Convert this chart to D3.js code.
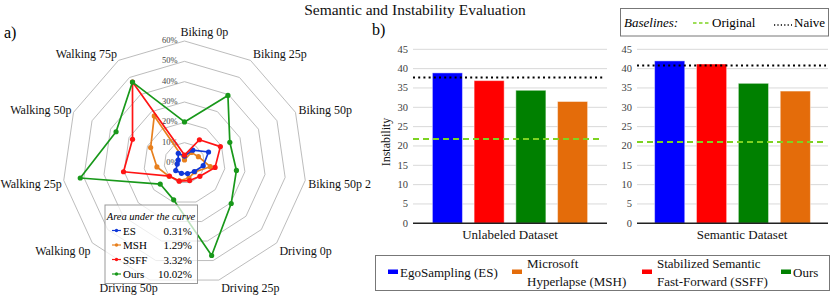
<!DOCTYPE html>
<html>
<head>
<meta charset="utf-8">
<script src="https://cdn.jsdelivr.net/npm/d3@7/dist/d3.min.js"></script>
<style>
  body { margin: 0; background: #fff; }
  svg { display: block; }
  svg text { font-family: "Liberation Serif", "DejaVu Serif", serif; }
</style>
</head>
<body>
<svg id="chart" width="831" height="297"></svg>
<script>
// ---- radar data (percent) ----
var radarAxes = ['Biking 0p','Biking 25p','Biking 50p','Biking 50p 2','Driving 0p','Driving 25p',
                 'Driving 50p','Walking 0p','Walking 25p','Walking 50p','Walking 75p'];
var radarTicks = [0, 10, 20, 30, 40, 50, 60];
var esRadar   = [3.4, 7.5, 13, 9.3, 6.4, 5.4, 5.3, 5.7, 3.6, 3.4, 5.7];
var mshRadar  = [1.5, 6.2, 7.5, 12.8, 6.7, 7.7, 9.1, 10, 13.7, 18.3, 27.5];
var ssffRadar = [3.9, 13.6, 19.4, 15.2, 10, 9, 9.3, 9.8, 30.3, 28.1, 47.3];
var oursRadar = [20.2, 39.5, 24.5, 25.8, 30.4, 47.4, 18.9, 15.8, 51.8, 37, 47.3];
var radarNames = ['ES', 'MSH', 'SSFF', 'Ours'];
var aucValues = ['0.31%', '1.29%', '3.32%', '10.02%'];

// ---- bar data ----
var barMethods = ['ES', 'SSFF', 'Ours', 'MSH'];
var datasets = ['Unlabeled Dataset', 'Semantic Dataset'];
var unlabeledVals = [38.9, 36.9, 34.4, 31.5];
var semanticVals = [42.0, 41.2, 36.2, 34.2];
var naiveVals = [37.7, 40.8];
var originalVals = [21.8, 21.0];
var barTicks = [0, 5, 10, 15, 20, 25, 30, 35, 40, 45];
var legendNames = [['EgoSampling (ES)'], ['Microsoft', 'Hyperlapse (MSH)'],
                   ['Stabilized Semantic', 'Fast-Forward (SSFF)'], ['Ours']];
var legendKeys = ['ES', 'MSH', 'SSFF', 'Ours'];

var radarColor = {ES: '#1038d8', MSH: '#e8801e', SSFF: '#ff1414', Ours: '#18981a'};
var barColor = {ES: '#0000ff', MSH: '#e46c0a', SSFF: '#ff0000', Ours: '#008000'};

var svg = d3.select('#chart');

svg.append('text')
  .attr('x', 415).attr('y', 15)
  .attr('text-anchor', 'middle')
  .attr('font-size', '15.5px')
  .attr('fill', '#111')
  .text('Semantic and Instability Evaluation');

svg.append('text').attr('x', 4).attr('y', 38).attr('font-size', '16px').text('a)');
svg.append('text').attr('x', 372).attr('y', 35).attr('font-size', '16px').text('b)');

// ================= radar =================
var cx = 184.5, cy = 163, R = 122;
var rScale = d3.scaleLinear().domain([0, 60]).range([0, R]);
var angle = d3.scaleLinear().domain([0, radarAxes.length]).range([0, 2 * Math.PI]);

function pt(i, r) {
  var a = angle(i);
  return [cx + r * Math.sin(a), cy - r * Math.cos(a)];
}

var radar = svg.append('g').attr('class', 'radar');

// rings
radar.selectAll('path.ring')
  .data(radarTicks.filter(function(t){ return t > 0; }))
  .enter()
    .append('path')
      .attr('class', 'ring')
      .attr('d', function(t) {
        return d3.line()(radarAxes.map(function(a, i){ return pt(i, rScale(t)); })) + 'Z';
      })
      .attr('fill', 'none')
      .attr('stroke', '#b4b4b4')
      .attr('stroke-width', 0.9);

// tick labels
radar.selectAll('text.tick')
  .data(radarTicks)
  .enter()
    .append('text')
      .attr('class', 'tick')
      .attr('x', cx - 7)
      .attr('y', function(t){ return cy - rScale(t) + 2; })
      .attr('text-anchor', 'end')
      .attr('font-size', '8.5px')
      .attr('fill', '#444')
      .text(function(t){ return t + '%'; });

// axis labels
radar.selectAll('text.axis')
  .data(radarAxes)
  .enter()
    .append('text')
      .attr('class', 'axis')
      .each(function(d, i) {
        var a = angle(i), s = Math.sin(a), c = Math.cos(a);
        var v = pt(i, R + 1);
        var anchor = s > 0.05 ? 'start' : (s < -0.05 ? 'end' : 'start');
        var dx = s > 0.05 ? 2 : -1;
        if (i === 0) dx = -4;
        if (s < 0 && s > -0.3 && c < 0) dx = 8;
        d3.select(this)
          .attr('x', v[0] + dx)
          .attr('y', i === 0 ? v[1] - 4 : Math.min(v[1] + 6 - 9 * c, 292))
          .attr('text-anchor', anchor);
      })
      .attr('font-size', '12px')
      .attr('fill', '#111')
      .text(function(d){ return d; });

var series = {ES: esRadar, MSH: mshRadar, SSFF: ssffRadar, Ours: oursRadar};
var drawOrder = ['MSH', 'ES', 'SSFF', 'Ours'];

drawOrder.forEach(function(name) {
  var vals = series[name];
  var pts = vals.map(function(v, i){ return pt(i, rScale(v)); });
  var g = radar.append('g').attr('class', 'series');
  g.append('path')
    .attr('d', d3.line()(pts) + 'Z')
    .attr('fill', 'none')
    .attr('stroke', radarColor[name])
    .attr('stroke-width', 1.7)
    .attr('stroke-linejoin', 'round');
  g.selectAll('circle')
    .data(pts)
    .enter()
      .append('circle')
        .attr('cx', function(p){ return p[0]; })
        .attr('cy', function(p){ return p[1]; })
        .attr('r', 2.6)
        .attr('fill', radarColor[name]);
});

// area-under-curve legend
var leg = radar.append('g').attr('class', 'auc');
leg.append('rect')
  .attr('x', 105).attr('y', 205).attr('width', 92.5).attr('height', 78.5)
  .attr('fill', '#fff').attr('fill-opacity', 0.72)
  .attr('stroke', '#999').attr('stroke-width', 1);
leg.append('text')
  .attr('x', 151).attr('y', 219.5)
  .attr('text-anchor', 'middle')
  .attr('font-size', '10.5px')
  .attr('font-style', 'italic')
  .text('Area under the curve');
radarNames.forEach(function(name, i) {
  var y = 230.5 + i * 14.5;
  leg.append('line')
    .attr('x1', 112).attr('x2', 121).attr('y1', y).attr('y2', y)
    .attr('stroke', radarColor[name]).attr('stroke-width', 1.2);
  leg.append('circle').attr('cx', 116.5).attr('cy', y).attr('r', 1.7).attr('fill', radarColor[name]);
  leg.append('text').attr('x', 123).attr('y', y + 4).attr('font-size', '11px').text(name);
  leg.append('text').attr('x', 192).attr('y', y + 4).attr('font-size', '11px')
    .attr('text-anchor', 'end').text(aucValues[i]);
});

// ================= bars =================
var y = d3.scaleLinear().domain([0, 45]).range([223.3, 49.3]);
var panels = [
  {x0: 413, x1: 607, vals: unlabeledVals, po: 0.465, labelX: 510},
  {x0: 637, x1: 828, vals: semanticVals, po: 0.42, labelX: 742}
];

panels.forEach(function(p, k) {
  var g = svg.append('g').attr('class', 'panel');
  var x = d3.scaleBand().domain(barMethods).range([p.x0, p.x1])
    .paddingInner(0.28).paddingOuter(p.po);

  // grid
  g.selectAll('line.grid')
    .data(barTicks.filter(function(t){ return t > 0; }))
    .enter()
      .append('line')
        .attr('x1', p.x0).attr('x2', p.x1)
        .attr('y1', function(t){ return y(t); })
        .attr('y2', function(t){ return y(t); })
        .attr('stroke', '#d9d9d9').attr('stroke-width', 1);

  // tick labels
  g.selectAll('text.tick')
    .data(barTicks)
    .enter()
      .append('text')
        .attr('x', p.x0 - 5)
        .attr('y', function(t){ return y(t) + 3.5; })
        .attr('text-anchor', 'end')
        .attr('font-size', '10.5px')
        .attr('fill', '#404040')
        .text(function(t){ return t; });

  g.selectAll('rect.bar')
    .data(p.vals)
    .enter()
      .append('rect')
        .attr('x', function(d, i){ return x(barMethods[i]); })
        .attr('width', x.bandwidth())
        .attr('y', function(d){ return y(d); })
        .attr('height', function(d){ return y(0) - y(d); })
        .attr('fill', function(d, i){ return barColor[barMethods[i]]; })
        .attr('stroke', 'rgba(255,255,255,0.45)')
        .attr('stroke-width', 1);

  // baseline axis
  g.append('line')
    .attr('x1', p.x0).attr('x2', p.x1)
    .attr('y1', y(0)).attr('y2', y(0))
    .attr('stroke', '#222').attr('stroke-width', 1.6);

  // naive & original baselines
  g.append('line')
    .attr('x1', p.x0).attr('x2', p.x1 - 2)
    .attr('y1', y(naiveVals[k])).attr('y2', y(naiveVals[k]))
    .attr('stroke', '#000').attr('stroke-width', 2)
    .attr('stroke-dasharray', '2,3.2');
  g.append('line')
    .attr('x1', p.x0).attr('x2', p.x1 - 4)
    .attr('y1', y(originalVals[k])).attr('y2', y(originalVals[k]))
    .attr('stroke', '#7ed321').attr('stroke-width', 2)
    .attr('stroke-dasharray', '6,4');

  g.append('text')
    .attr('x', p.labelX).attr('y', 239)
    .attr('text-anchor', 'middle')
    .attr('font-size', '13px')
    .attr('fill', '#111')
    .text(datasets[k]);
});

svg.append('text')
  .attr('transform', 'translate(390,142) rotate(-90)')
  .attr('text-anchor', 'middle')
  .attr('font-size', '12px')
  .attr('fill', '#111')
  .text('Instability');

// baselines legend
var bl = svg.append('g').attr('class', 'baselines');
bl.append('rect').attr('x', 620.5).attr('y', 8.5).attr('width', 208).attr('height', 27.5)
  .attr('fill', '#fff').attr('stroke', '#777').attr('stroke-width', 1);
bl.append('text').attr('x', 624).attr('y', 27).attr('font-size', '13px')
  .attr('font-style', 'italic').text('Baselines:');
bl.append('line').attr('x1', 693).attr('x2', 710).attr('y1', 23).attr('y2', 23)
  .attr('stroke', '#7ed321').attr('stroke-width', 1.3).attr('stroke-dasharray', '3.5,2.5');
bl.append('text').attr('x', 712).attr('y', 27).attr('font-size', '13px').text('Original');
bl.append('line').attr('x1', 774).attr('x2', 792).attr('y1', 25).attr('y2', 25)
  .attr('stroke', '#000').attr('stroke-width', 1.3).attr('stroke-dasharray', '1.2,2.2');
bl.append('text').attr('x', 794).attr('y', 27).attr('font-size', '13px').text('Naive');

// methods legend
var ml = svg.append('g').attr('class', 'methods');
ml.append('rect').attr('x', 375.5).attr('y', 255.5).attr('width', 454).attr('height', 35)
  .attr('fill', '#fff').attr('stroke', '#777').attr('stroke-width', 1);
var legendX = [388, 512, 642, 781];
legendKeys.forEach(function(key, i) {
  ml.append('rect').attr('x', legendX[i]).attr('y', 269.5).attr('width', 10).attr('height', 4.5)
    .attr('fill', barColor[key]);
  var lines = legendNames[i];
  lines.forEach(function(t, j) {
    ml.append('text')
      .attr('x', legendX[i] + (lines.length > 1 ? 15 : 12))
      .attr('y', lines.length > 1 ? 268 + j * 17.5 : 276.5)
      .attr('font-size', '13px')
      .attr('fill', '#111')
      .text(t);
  });
});
</script>
</body>
</html>
